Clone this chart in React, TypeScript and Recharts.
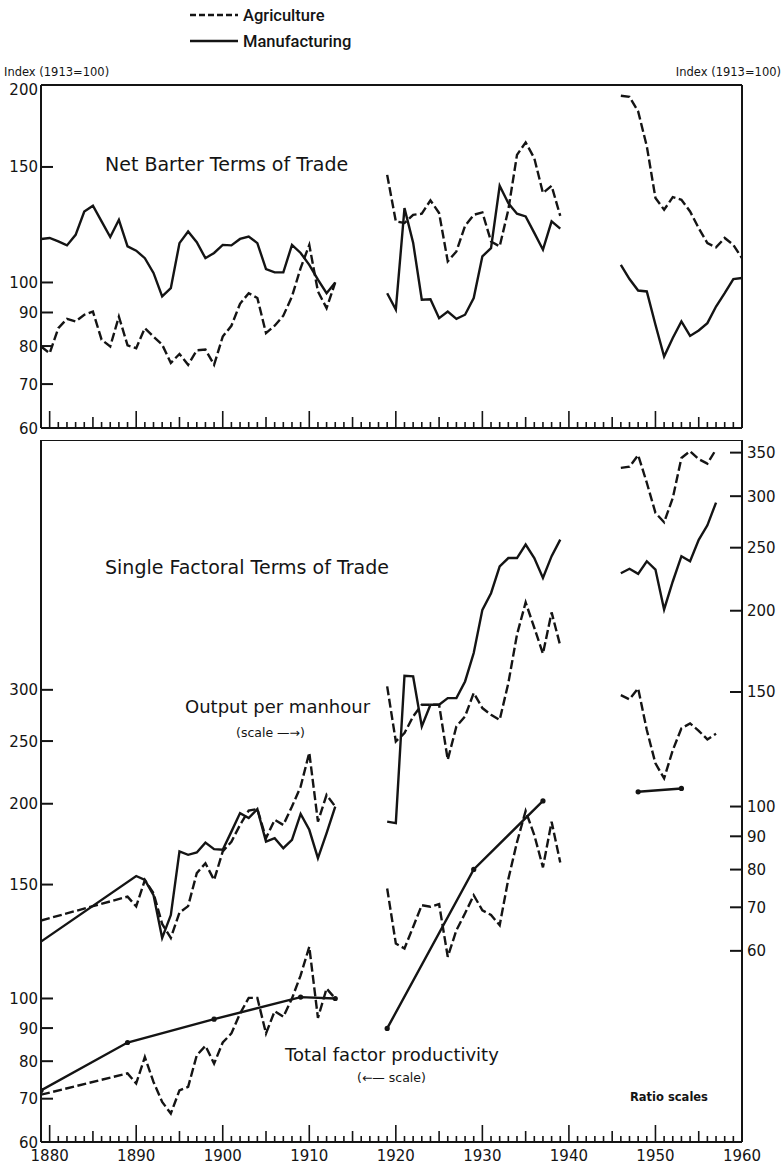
import { LineChart, Line, XAxis, YAxis, ReferenceLine } from 'recharts';

const INK = '#141414';
const FONT = '"DejaVu Sans", sans-serif';
const DASH = '9 3.5';

const range = (a: number, b: number) => Array.from({ length: b - a + 1 }, (_, i) => a + i);

// ---- Net barter terms of trade (index 1913 = 100)
const nbttYearsA = range(1879, 1913);
const nbttAgriA = [79.9, 78.0, 85.2, 88.0, 87.2, 89.3, 90.3, 81.8, 79.9, 88.7, 80.2, 79.4, 85.2, 82.7, 80.4, 75.4, 77.8, 74.9, 78.8, 79.0, 74.9, 82.7, 85.9, 92.8, 96.3, 94.7, 83.7, 85.9, 89.0, 95.2, 105.2, 114.1, 96.9, 91.4, 100];
const nbttManufA = [116.5, 116.9, 115.5, 113.9, 118.2, 128.3, 130.9, 123.9, 117.3, 124.6, 113.5, 111.8, 108.9, 103.4, 95.2, 98.0, 114.8, 119.6, 115.2, 108.9, 110.9, 114.1, 113.9, 116.5, 117.5, 114.8, 104.8, 103.6, 103.6, 114.1, 110.9, 106.4, 101.0, 96.3, 100];
const nbttYearsB = range(1919, 1939);
const nbttAgriB = [145.9, 123.9, 123.2, 126.8, 127.3, 133.4, 127.6, 107.7, 111.5, 122.0, 126.8, 127.9, 115.5, 113.5, 129.1, 156.5, 163.5, 154.7, 136.9, 140.4, 126.3];
const nbttManufB = [96.3, 90.9, 129.8, 115.0, 94.1, 94.3, 88.2, 90.3, 88.0, 89.3, 94.7, 109.6, 112.8, 140.4, 132.1, 127.3, 126.1, 119.0, 112.2, 123.9, 120.8];
const nbttYearsC = range(1946, 1960);
const nbttAgriC = [192.6, 191.8, 182.3, 161.3, 134.5, 129.1, 134.9, 133.7, 128.3, 121.0, 114.8, 113.1, 116.9, 114.1, 108.9];
const nbttManufC = [106.4, 101.2, 97.2, 96.9, 86.2, 77.1, 82.3, 87.2, 82.9, 84.5, 86.7, 91.9, 96.3, 101.2, 101.6];

// ---- Single factoral terms of trade, output per manhour basis (right scale)
const opmAgriYearsA = [1879, ...range(1889, 1913)];
const opmAgriA = [66.8, 72.7, 70.2, 77.1, 73.6, 66.0, 62.8, 68.7, 70.3, 79.0, 81.8, 77.1, 85.3, 88.3, 93.7, 98.6, 99.1, 89.4, 95.4, 93.7, 100, 107.3, 121.0, 94.8, 104.2, 100];
const opmManufYearsA = [1879, ...range(1890, 1913)];
const opmManufA = [62.0, 78.2, 77.1, 73.1, 62.8, 68.1, 85.3, 84.3, 85.0, 88.0, 86.0, 85.8, 91.5, 97.7, 96.0, 99.1, 88.3, 89.4, 86.3, 88.9, 97.4, 92.1, 83.3, 91.0, 100];
const opmYearsB = range(1919, 1939);
const opmAgriB = [153.0, 125.9, 129.7, 137.6, 143.4, 143.4, 143.4, 118.0, 132.8, 137.6, 149.5, 141.7, 138.4, 135.9, 154.8, 183.8, 206.0, 188.3, 171.8, 198.8, 176.7];
const opmManufB = [94.8, 94.3, 158.9, 158.5, 132.8, 143.4, 143.4, 146.8, 146.8, 155.7, 172.2, 200.6, 212.8, 234.0, 241.0, 241.0, 252.8, 241.0, 224.6, 242.6, 257.2];
const opmYearsC = range(1946, 1957);
const opmAgriC = [331.6, 333.0, 347.0, 314.6, 282.8, 273.5, 298.0, 343.4, 351.8, 342.0, 336.6, 354.0];
const opmManufC = [228.4, 232.0, 227.9, 238.3, 231.4, 200.9, 221.8, 242.6, 238.3, 257.0, 270.6, 293.3];

// ---- Single factoral terms of trade, total factor productivity basis (left scale)
const tfpAgriYearsA = [1879, ...range(1889, 1913)];
const tfpAgriA = [71.0, 76.6, 73.9, 81.2, 74.3, 69.2, 66.4, 72.1, 73.0, 81.7, 84.5, 79.3, 85.5, 88.3, 94.8, 100.2, 100.2, 88.3, 95.6, 93.7, 100, 108.6, 120.2, 93.3, 103.6, 100];
const tfpManufYearsA = [1879, 1889, 1899, 1909, 1913];
const tfpManufA = [72.1, 85.5, 92.9, 100.5, 100];
const tfpAgriYearsB = range(1919, 1939);
const tfpAgriB = [147.9, 121.6, 119.5, 129.0, 139.4, 138.6, 139.9, 116.0, 127.5, 135.4, 144.4, 136.9, 134.6, 129.8, 153.0, 174.4, 195.0, 178.9, 159.5, 187.6, 162.3];
const tfpManufYearsB = [1919, 1929, 1937];
const tfpManufB = [89.9, 158.3, 202.0];
const tfpAgriYearsC = range(1946, 1957);
const tfpAgriC = [294.4, 290.0, 301.6, 260.0, 230.9, 218.9, 242.0, 261.6, 266.2, 259.3, 251.5, 256.7];
const tfpManufYearsC = [1948, 1953];
const tfpManufC = [208.7, 211.2];

// ---- ticks
const topYearTicks = range(1880, 1959);
const bottomYearTicks = range(1880, 1960);
const nbttTicks = [60, 70, 80, 90, 100, 150, 200];
const leftTicks = [60, 70, 80, 90, 100, 150, 200, 250, 300];
const rightTicks = [60, 70, 80, 90, 100, 150, 200, 250, 300, 350];

const seg = (years: number[], vals: number[]) => years.map((year, i) => ({ year, v: vals[i] }));

type Series = { id: string; data: { year: number; v: number }[]; dash?: boolean; dots?: boolean; axis: string };

const topSeries: Series[] = [
  { id: 'na1', data: seg(nbttYearsA, nbttAgriA), dash: true, axis: 'l' },
  { id: 'nm1', data: seg(nbttYearsA, nbttManufA), axis: 'l' },
  { id: 'na2', data: seg(nbttYearsB, nbttAgriB), dash: true, axis: 'l' },
  { id: 'nm2', data: seg(nbttYearsB, nbttManufB), axis: 'l' },
  { id: 'na3', data: seg(nbttYearsC, nbttAgriC), dash: true, axis: 'l' },
  { id: 'nm3', data: seg(nbttYearsC, nbttManufC), axis: 'l' },
];

const bottomSeries: Series[] = [
  { id: 'oa1', data: seg(opmAgriYearsA, opmAgriA), dash: true, axis: 'r' },
  { id: 'om1', data: seg(opmManufYearsA, opmManufA), axis: 'r' },
  { id: 'oa2', data: seg(opmYearsB, opmAgriB), dash: true, axis: 'r' },
  { id: 'om2', data: seg(opmYearsB, opmManufB), axis: 'r' },
  { id: 'oa3', data: seg(opmYearsC, opmAgriC), dash: true, axis: 'r' },
  { id: 'om3', data: seg(opmYearsC, opmManufC), axis: 'r' },
  { id: 'ta1', data: seg(tfpAgriYearsA, tfpAgriA), dash: true, axis: 'l' },
  { id: 'tm1', data: seg(tfpManufYearsA, tfpManufA), dots: true, axis: 'l' },
  { id: 'ta2', data: seg(tfpAgriYearsB, tfpAgriB), dash: true, axis: 'l' },
  { id: 'tm2', data: seg(tfpManufYearsB, tfpManufB), dots: true, axis: 'l' },
  { id: 'ta3', data: seg(tfpAgriYearsC, tfpAgriC), dash: true, axis: 'l' },
  { id: 'tm3', data: seg(tfpManufYearsC, tfpManufC), dots: true, axis: 'l' },
];

const YearTick = (props: any) => {
  const { x, y, payload, labelled } = props;
  const yr = payload.value as number;
  const len = yr % 10 === 0 ? 17 : yr % 5 === 0 ? 11 : 6;
  return (
    <g>
      <line x1={x} x2={x} y1={y} y2={y - len} stroke={INK} strokeWidth={1.6} />
      {labelled && yr % 10 === 0 && (
        <text x={x} y={y + 19} textAnchor="middle" fontSize={15} fontFamily={FONT} fill={INK}>
          {yr}
        </text>
      )}
    </g>
  );
};

const ValueTick = (props: any) => {
  const { x, y, payload, side, bare, topValue } = props;
  const v = payload.value as number;
  const left = side === 'left';
  // the label at the top corner sits a little below the frame line
  const dy = v === topValue ? 9.5 : 5.5;
  return (
    <g>
      {!bare.includes(v) && (
        <line x1={x} x2={left ? x + 12 : x - 12} y1={y} y2={y} stroke={INK} strokeWidth={2} />
      )}
      <text
        x={left ? x - 3 : x + 5}
        y={y + dy}
        textAnchor={left ? 'end' : 'start'}
        fontSize={15}
        fontFamily={FONT}
        fill={INK}
      >
        {v}
      </text>
    </g>
  );
};

const drawLine = (s: Series) => (
  <Line
    key={s.id}
    yAxisId={s.axis}
    data={s.data}
    dataKey="v"
    type="linear"
    stroke={INK}
    strokeWidth={2.4}
    strokeDasharray={s.dash ? DASH : undefined}
    dot={s.dots ? { r: 2.6, fill: INK, stroke: 'none' } : false}
    activeDot={false}
    isAnimationActive={false}
  />
);

const frame = { stroke: INK, strokeWidth: 2 };

const App = () => {
  return (
    <div style={{ position: 'absolute', left: 0, top: 0, width: 784, height: 1168, background: '#fff' }}>
      <div style={{ position: 'absolute', left: 0, top: 0 }}>
        <LineChart width={784} height={440} margin={{ top: 85, right: 0, bottom: 0, left: 0 }}>
          <XAxis
            type="number"
            dataKey="year"
            domain={[1879, 1960]}
            ticks={topYearTicks}
            interval={0}
            height={12}
            tickSize={0}
            tickMargin={0}
            tickLine={false}
            axisLine={frame}
            allowDataOverflow
            tick={(p: any) => <YearTick {...p} labelled={false} />}
          />
          <YAxis
            yAxisId="l"
            scale="log"
            domain={[60, 200]}
            ticks={nbttTicks}
            interval={0}
            width={41}
            tickSize={0}
            tickMargin={0}
            tickLine={false}
            axisLine={frame}
            allowDataOverflow
            tick={(p: any) => <ValueTick {...p} side="left" bare={[60, 200]} topValue={200} />}
          />
          <YAxis
            yAxisId="r"
            orientation="right"
            scale="log"
            domain={[60, 200]}
            width={42}
            tick={false}
            tickLine={false}
            axisLine={frame}
            allowDataOverflow
          />
          <ReferenceLine yAxisId="l" y={200} stroke={INK} strokeWidth={2} />
          {topSeries.map(drawLine)}
        </LineChart>
      </div>
      <div style={{ position: 'absolute', left: 0, top: 440 }}>
        <LineChart width={784} height={728} margin={{ top: 0, right: 0, bottom: 0, left: 0 }}>
          <XAxis
            type="number"
            dataKey="year"
            domain={[1879, 1960]}
            ticks={bottomYearTicks}
            interval={0}
            height={26}
            tickSize={0}
            tickMargin={0}
            tickLine={false}
            axisLine={frame}
            allowDataOverflow
            tick={(p: any) => <YearTick {...p} labelled />}
          />
          <YAxis
            yAxisId="l"
            scale="log"
            domain={[60, 730]}
            ticks={leftTicks}
            interval={0}
            width={41}
            tickSize={0}
            tickMargin={0}
            tickLine={false}
            axisLine={frame}
            allowDataOverflow
            tick={(p: any) => <ValueTick {...p} side="left" bare={[60]} />}
          />
          <YAxis
            yAxisId="r"
            orientation="right"
            scale="log"
            domain={[30.5, 366]}
            ticks={rightTicks}
            interval={0}
            width={42}
            tickSize={0}
            tickMargin={0}
            tickLine={false}
            axisLine={frame}
            allowDataOverflow
            tick={(p: any) => <ValueTick {...p} side="right" bare={[]} />}
          />
          <ReferenceLine yAxisId="l" y={730} stroke={INK} strokeWidth={2} />
          {bottomSeries.map(drawLine)}
        </LineChart>
      </div>
      <svg
        width={784}
        height={1168}
        style={{ position: 'absolute', left: 0, top: 0, pointerEvents: 'none' }}
        fontFamily={FONT}
        fill={INK}
      >
        <line x1={190} x2={238} y1={15} y2={15} stroke={INK} strokeWidth={2.4} strokeDasharray="6 3" />
        <text x={243} y={21} fontSize={16.5} fontFamily="Roboto, sans-serif" fontWeight={500}>Agriculture</text>
        <line x1={190} x2={238} y1={41} y2={41} stroke={INK} strokeWidth={2.4} />
        <text x={243} y={47} fontSize={16.5} fontFamily="Roboto, sans-serif" fontWeight={500}>Manufacturing</text>

        <text x={4} y={76} fontSize={11.5}>Index (1913=100)</text>
        <text x={781} y={76} fontSize={11.5} textAnchor="end">Index (1913=100)</text>

        <text x={105} y={171} fontSize={19}>Net Barter Terms of Trade</text>
        <text x={105} y={574} fontSize={19}>Single Factoral Terms of Trade</text>
        <text x={185} y={713} fontSize={18}>Output per manhour</text>
        <text x={236} y={737} fontSize={12.5}>(scale —→)</text>
        <text x={285} y={1061} fontSize={18}>Total factor productivity</text>
        <text x={357} y={1082} fontSize={12.5}>(←— scale)</text>
        <text x={630} y={1101} fontSize={11.5} fontWeight="bold">Ratio scales</text>
      </svg>
    </div>
  );
};

export default App;
